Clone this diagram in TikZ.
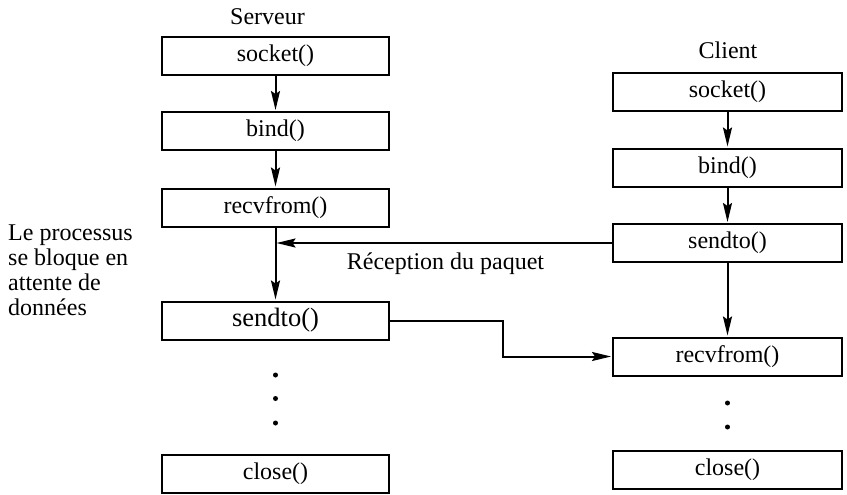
\documentclass[tikz,border=0pt]{standalone}
\usepackage{fontspec}
\setmainfont{Liberation Serif}
\usetikzlibrary{arrows.meta}
\begin{document}
\begin{tikzpicture}[x=1pt,y=-1pt,
  every node/.style={font=\fontsize{24}{26}\selectfont},
  callbox/.style={draw, line width=2pt, inner sep=0pt, minimum height=38pt,
    text height=16pt, text depth=5pt},
  srvbox/.style={callbox, minimum width=227pt},
  clibox/.style={callbox, minimum width=229pt},
  flow/.style={line width=2pt, shorten >=1pt,
    -{Stealth[length=19pt,width=9pt,inset=3pt]}},
  dotmark/.style={circle, fill, inner sep=0pt, minimum size=5pt},
  lbl/.style={inner sep=0pt}]
\useasboundingbox (0,0) rectangle (847,495);

% server side
\node[lbl] (srvtitle) at (267.5,17) {Serveur};
\node[srvbox] (ssock) at (275.5,56.5) {socket()};
\node[srvbox] (sbind) at (275.5,131) {bind()};
\node[srvbox] (srecv) at (275.5,207.5) {recvfrom()};
\node[srvbox, font=\fontsize{26.5}{28}\selectfont] (ssend) at (275.5,320.5) {sendto()};
\node[srvbox] (sclose) at (275.5,473.5) {close()};
\node[dotmark] (sd1) at (275.5,375) {};
\node[dotmark] (sd2) at (275.5,398.5) {};
\node[dotmark] (sd3) at (275.5,423) {};

% client side
\node[lbl] (clititle) at (728,50) {Client};
\node[clibox] (csock) at (727.5,92) {socket()};
\node[clibox] (cbind) at (727.5,167.5) {bind()};
\node[clibox] (csend) at (727.5,243) {sendto()};
\node[clibox] (crecv) at (727.5,356.5) {recvfrom()};
\node[clibox] (cclose) at (727.5,469.5) {close()};
\node[dotmark] (cd1) at (727.5,403) {};
\node[dotmark] (cd2) at (727.5,427) {};

% blocking note
\node[lbl, anchor=base west] (n1) at (8,240) {Le processus};
\node[lbl, anchor=base west] (n2) at (8,265) {se bloque en};
\node[lbl, anchor=base west] (n3) at (8,290) {attente de};
\node[lbl, anchor=base west] (n4) at (8,315) {données};

% call sequence
\draw[flow] (ssock) -- (sbind);
\draw[flow] (sbind) -- (srecv);
\draw[flow] (srecv) -- (ssend);
\draw[flow] (csock) -- (cbind);
\draw[flow] (cbind) -- (csend);
\draw[flow] (csend) -- (crecv);

% datagram exchange
\coordinate (hit) at (srecv.south |- csend.west);
\draw[flow] (csend.west) -- (hit);
\node[lbl] (rxlbl) at (445.5,264) {Réception du paquet};
\draw[flow] (ssend.east) -- ++(113,0) |- (crecv.west);
\end{tikzpicture}
\end{document}
